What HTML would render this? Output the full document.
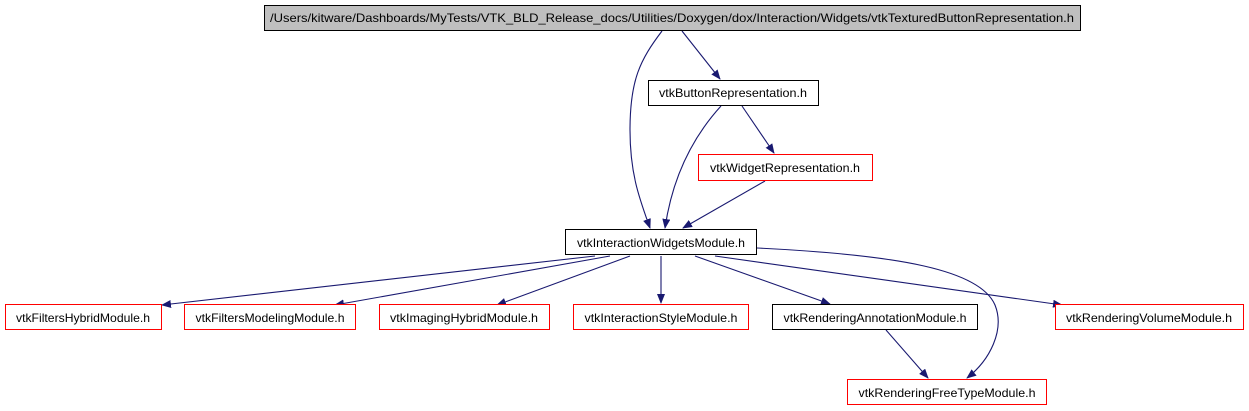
<!DOCTYPE html>
<html><head><meta charset="utf-8"><style>body{margin:0;background:#fff}svg{display:block}text{font-family:"Liberation Sans",sans-serif;font-size:12px;fill:#000}</style></head><body>
<svg width="1249" height="411" viewBox="0 0 1249 411" xmlns="http://www.w3.org/2000/svg">
<defs><marker id="a" markerWidth="10" markerHeight="8" refX="9" refY="4" orient="auto" markerUnits="userSpaceOnUse"><path d="M0,0 L10,4 L0,8 Z" fill="#191970"/></marker></defs>
<g fill="none" stroke="#191970" stroke-width="1.1" marker-end="url(#a)">
<path d="M662,31 C640,60 630,80 630,130 C630,175 640,200 650,228"/>
<path d="M682,31 L720,79"/>
<path d="M721,106 C690,140 672,180 665,228"/>
<path d="M742,106 L774,153"/>
<path d="M765,181 L683,228"/>
<path d="M595,256 L162,305"/>
<path d="M610,256 L335,305"/>
<path d="M630,256 L497,305"/>
<path d="M661,256 L661,303"/>
<path d="M695,256 L830,304"/>
<path d="M715,256 L1062,305"/>
<path d="M757,248 C900,255 980,270 995,305 C1005,330 990,360 967,378"/>
<path d="M886,330 L928,378"/>
</g>
<g stroke-width="1">
<rect x="264.5" y="5.5" width="816" height="25" fill="#bfbfbf" stroke="#000"/>
<rect x="648.5" y="80.5" width="170" height="25" fill="#fff" stroke="#000"/>
<rect x="698.5" y="154.5" width="174" height="26" fill="#fff" stroke="#f00"/>
<rect x="565.5" y="229.5" width="191" height="25" fill="#fff" stroke="#000"/>
<rect x="5.5" y="304.5" width="156" height="25" fill="#fff" stroke="#f00"/>
<rect x="184.5" y="304.5" width="171" height="25" fill="#fff" stroke="#f00"/>
<rect x="379.5" y="304.5" width="170" height="25" fill="#fff" stroke="#f00"/>
<rect x="573.5" y="304.5" width="175" height="25" fill="#fff" stroke="#f00"/>
<rect x="772.5" y="304.5" width="205" height="25" fill="#fff" stroke="#000"/>
<rect x="1055.5" y="304.5" width="188" height="25" fill="#fff" stroke="#f00"/>
<rect x="847.5" y="379.5" width="199" height="25" fill="#fff" stroke="#f00"/>
</g>
<g text-anchor="middle">
<text x="672" y="22" textLength="804" lengthAdjust="spacingAndGlyphs">/Users/kitware/Dashboards/MyTests/VTK_BLD_Release_docs/Utilities/Doxygen/dox/Interaction/Widgets/vtkTexturedButtonRepresentation.h</text>
<text x="733" y="97" textLength="148" lengthAdjust="spacingAndGlyphs">vtkButtonRepresentation.h</text>
<text x="785" y="172" textLength="150" lengthAdjust="spacingAndGlyphs">vtkWidgetRepresentation.h</text>
<text x="661" y="247" textLength="168" lengthAdjust="spacingAndGlyphs">vtkInteractionWidgetsModule.h</text>
<text x="83" y="322" textLength="134" lengthAdjust="spacingAndGlyphs">vtkFiltersHybridModule.h</text>
<text x="270" y="322" textLength="149" lengthAdjust="spacingAndGlyphs">vtkFiltersModelingModule.h</text>
<text x="464" y="322" textLength="148" lengthAdjust="spacingAndGlyphs">vtkImagingHybridModule.h</text>
<text x="661" y="322" textLength="153" lengthAdjust="spacingAndGlyphs">vtkInteractionStyleModule.h</text>
<text x="875" y="322" textLength="183" lengthAdjust="spacingAndGlyphs">vtkRenderingAnnotationModule.h</text>
<text x="1149" y="322" textLength="166" lengthAdjust="spacingAndGlyphs">vtkRenderingVolumeModule.h</text>
<text x="947" y="397" textLength="177" lengthAdjust="spacingAndGlyphs">vtkRenderingFreeTypeModule.h</text>
</g>
</svg>
</body></html>
